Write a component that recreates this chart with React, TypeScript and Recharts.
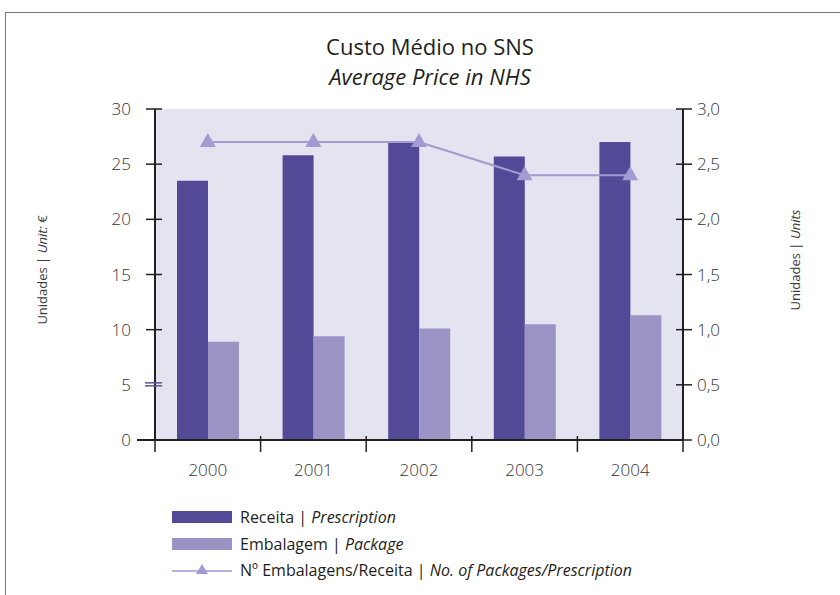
import React from 'react';
import { ComposedChart, Bar, Line, XAxis, YAxis, CartesianGrid } from 'recharts';

const years = ['2000', '2001', '2002', '2003', '2004'];
const receita = [23.5, 25.8, 27.0, 25.7, 27.0];
const embalagem = [8.9, 9.4, 10.1, 10.5, 11.3];
const packagesPerPrescription = [2.7, 2.7, 2.7, 2.4, 2.4];
const leftTicks = [0, 5, 10, 15, 20, 25, 30];
const rightTicks = [0, 0.5, 1, 1.5, 2, 2.5, 3];

const data = years.map((year, i) => ({
  year,
  receita: receita[i],
  embalagem: embalagem[i],
  ratio: packagesPerPrescription[i],
}));

const W = 840;
const H = 595;
const PLOT_LEFT = 155;
const PLOT_RIGHT = 683;
const PLOT_TOP = 109;
const PLOT_BOTTOM = 440;
const BAND = (PLOT_RIGHT - PLOT_LEFT) / years.length;

const DARK = '#524a96';
const LIGHT = '#9a93c4';
const LINE = '#a19bd1';
const INK = '#231f20';
const FONT = '"Open Sans", "Noto Sans", sans-serif';

const LeftTick = (props: any) => {
  const { x, y, payload } = props;
  return (
    <g>
      {payload.value === 5 ? (
        <g>
          <line x1={x - 10} x2={x + 7} y1={y - 2} y2={y - 2} stroke="#5a5491" strokeWidth={1.5} />
          <line x1={x - 10} x2={x + 7} y1={y + 1} y2={y + 1} stroke="#5a5491" strokeWidth={1.5} />
        </g>
      ) : (
        <line x1={x - 9} x2={x + 7} y1={y} y2={y} stroke={INK} strokeWidth={1.5} />
      )}
      <text x={x - 24} y={y} dy={6} textAnchor="end" fontSize={17} fill="#333" fontFamily={FONT} fontWeight={300}>
        {payload.value}
      </text>
    </g>
  );
};

const RightTick = (props: any) => {
  const { x, y, payload } = props;
  return (
    <g>
      <line x1={x - 7} x2={x + 9} y1={y} y2={y} stroke={INK} strokeWidth={1.5} />
      <text x={x + 14} y={y} dy={6} textAnchor="start" fontSize={17} fill="#333" fontFamily={FONT} fontWeight={300}>
        {Number(payload.value).toFixed(1).replace('.', ',')}
      </text>
    </g>
  );
};

const BottomTick = (props: any) => {
  const { x, y, payload, index } = props;
  const left = x - BAND / 2;
  return (
    <g>
      {index === 0 && <line x1={left - 18} x2={left} y1={y} y2={y} stroke={INK} strokeWidth={2} />}
      <line x1={left} x2={left} y1={index === 0 ? y : y - 4} y2={y + 12} stroke={INK} strokeWidth={1.5} />
      {index === years.length - 1 && (
        <line x1={x + BAND / 2} x2={x + BAND / 2} y1={y - 4} y2={y + 12} stroke={INK} strokeWidth={1.5} />
      )}
      <text x={x} y={y + 36} textAnchor="middle" fontSize={17} fill="#333" fontFamily={FONT} fontWeight={300}>
        {payload.value}
      </text>
    </g>
  );
};

const Triangle = (props: any) => {
  const { cx, cy } = props;
  if (cx == null || cy == null) return null;
  return <path d={`M${cx},${cy - 9} L${cx + 8},${cy + 5} L${cx - 8},${cy + 5} Z`} fill={LINE} />;
};

const legendText: React.CSSProperties = {
  position: 'absolute',
  left: 240,
  fontSize: 16,
  color: INK,
  fontFamily: FONT,
  lineHeight: '20px',
  whiteSpace: 'nowrap',
};

const axisTitle = (cx: number, cy: number): React.CSSProperties => ({
  position: 'absolute',
  left: cx - 100,
  top: cy - 10,
  width: 200,
  height: 20,
  lineHeight: '20px',
  textAlign: 'center',
  transform: 'rotate(-90deg)',
  fontSize: 13,
  color: '#3a3a3a',
  fontFamily: FONT,
  whiteSpace: 'nowrap',
});

export default function App() {
  return (
    <div style={{ position: 'absolute', left: 0, top: 0, width: W, height: H, background: '#fff', overflow: 'hidden' }}>
      <div style={{ position: 'absolute', left: 5, top: 12, width: W, height: H, borderLeft: '1px solid #777', borderTop: '1px solid #777' }} />
      <div style={{ position: 'absolute', left: 0, width: 860, top: 31, textAlign: 'center', fontFamily: FONT, fontSize: 22, color: INK, lineHeight: '30px' }}>
        Custo Médio no SNS
        <br />
        <i>Average Price in NHS</i>
      </div>
      <div style={axisTitle(42, 270)}>
        Unidades | <i>Unit:</i> €
      </div>
      <div style={axisTitle(795, 260)}>
        Unidades | <i>Units</i>
      </div>
      <div style={{ position: 'absolute', left: 0, top: 0 }}>
        <ComposedChart
          width={W}
          height={H}
          data={data}
          margin={{ top: PLOT_TOP, right: 0, bottom: H - PLOT_BOTTOM - 40, left: 0 }}
          barGap={0}
          barSize={31}
        >
          <CartesianGrid fill="#e4e3f0" horizontal={false} vertical={false} stroke="none" />
          <XAxis
            dataKey="year"
            height={40}
            axisLine={{ stroke: INK, strokeWidth: 2 }}
            tickLine={false}
            tickSize={0}
            tickMargin={0}
            tick={<BottomTick />}
            interval={0}
          />
          <YAxis
            yAxisId="left"
            width={PLOT_LEFT}
            domain={[0, 30]}
            ticks={leftTicks}
            axisLine={{ stroke: INK, strokeWidth: 2 }}
            tickLine={false}
            tickSize={0}
            tickMargin={0}
            tick={<LeftTick />}
          />
          <YAxis
            yAxisId="right"
            orientation="right"
            width={W - PLOT_RIGHT}
            domain={[0, 3]}
            ticks={rightTicks}
            axisLine={{ stroke: INK, strokeWidth: 2 }}
            tickLine={false}
            tickSize={0}
            tickMargin={0}
            tick={<RightTick />}
          />
          <Bar yAxisId="left" dataKey="receita" fill={DARK} isAnimationActive={false} />
          <Bar yAxisId="left" dataKey="embalagem" fill={LIGHT} isAnimationActive={false} />
          <Line
            yAxisId="right"
            dataKey="ratio"
            stroke={LINE}
            strokeWidth={2}
            dot={<Triangle />}
            activeDot={false}
            isAnimationActive={false}
          />
        </ComposedChart>
      </div>
      <div style={{ position: 'absolute', left: 172, top: 511, width: 60, height: 12, background: DARK }} />
      <div style={{ ...legendText, top: 507 }}>
        Receita | <i>Prescription</i>
      </div>
      <div style={{ position: 'absolute', left: 172, top: 538, width: 60, height: 12, background: LIGHT }} />
      <div style={{ ...legendText, top: 534 }}>
        Embalagem | <i>Package</i>
      </div>
      <svg style={{ position: 'absolute', left: 172, top: 562 }} width={60} height={16}>
        <line x1={0} x2={60} y1={9} y2={9} stroke="#b8b3dc" strokeWidth={2} />
        <path d="M30,2 L36,12 L24,12 Z" fill={LINE} />
      </svg>
      <div style={{ ...legendText, top: 560 }}>
        Nº Embalagens/Receita | <i>No. of Packages/Prescription</i>
      </div>
    </div>
  );
}
